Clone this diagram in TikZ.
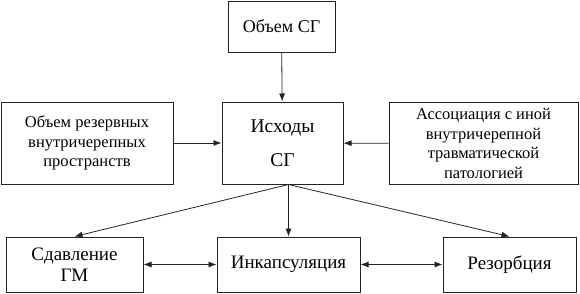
\documentclass[tikz,border=0pt]{standalone}
\usepackage{fontspec}
\setmainfont[Ligatures=TeX]{Liberation Serif}
\usetikzlibrary{arrows.meta}
\definecolor{linecolor}{RGB}{35,35,35}

\begin{document}
\begin{tikzpicture}[
  x=1pt, y=-1pt,
  box/.style={draw=linecolor, line width=1pt, inner sep=0pt, align=center},
  bigtext/.style={font=\rmfamily\fontsize{19}{21}\selectfont},
  smalltext/.style={font=\rmfamily\fontsize{16.5}{19.5}\selectfont},
  arr/.style={-{Latex[length=8pt,width=6pt]}, draw=linecolor, line width=0.8pt},
  twoarr/.style={{Latex[length=8pt,width=6pt]}-{Latex[length=8pt,width=6pt]}, draw=linecolor, line width=0.8pt},
]
\useasboundingbox (0,0) rectangle (580,293);

% ---------- top row ----------
\node[box, font=\rmfamily\fontsize{18}{21}\selectfont, minimum width=107pt, minimum height=51pt] (volume) at (281.5, 26.5) {Объем СГ};

% ---------- middle row ----------
\node[box, smalltext, minimum width=172pt, minimum height=82pt] (reserve) at (87, 143)
  {Объем резервных\\внутричерепных\\пространств};
\node[box, font=\rmfamily\fontsize{19.5}{34}\selectfont, minimum width=121pt, minimum height=82pt] (outcome) at (282.5, 143)
  {Исходы\\СГ};
\node[box, smalltext, minimum width=189pt, minimum height=82pt] (assoc) at (483.5, 143.5)
  {Ассоциация с иной\\внутричерепной\\травматической\\патологией};

% ---------- bottom row ----------
\node[box, bigtext, minimum width=137pt, minimum height=55pt] (compress) at (74.5, 264.5) {Сдавление\\ГМ};
\node[box, bigtext, minimum width=143pt, minimum height=55pt] (encaps) at (288.5, 264.5) {Инкапсуляция};
\node[box, bigtext, minimum width=133pt, minimum height=55pt] (resorb) at (509.5, 264.5) {Резорбция};

% ---------- connectors ----------
\draw[arr] (volume) -- (outcome);
\draw[arr] (reserve) -- (outcome);
\draw[arr] (assoc) -- (outcome);

\coordinate (fork) at (outcome.south -| encaps.north);
\draw[arr] (fork) -- (compress.north);
\draw[arr] (fork) -- (encaps.north);
\draw[arr] (fork) -- (resorb.north);

\draw[twoarr] (compress) -- (encaps);
\draw[twoarr] (encaps) -- (resorb);

\end{tikzpicture}
\end{document}
